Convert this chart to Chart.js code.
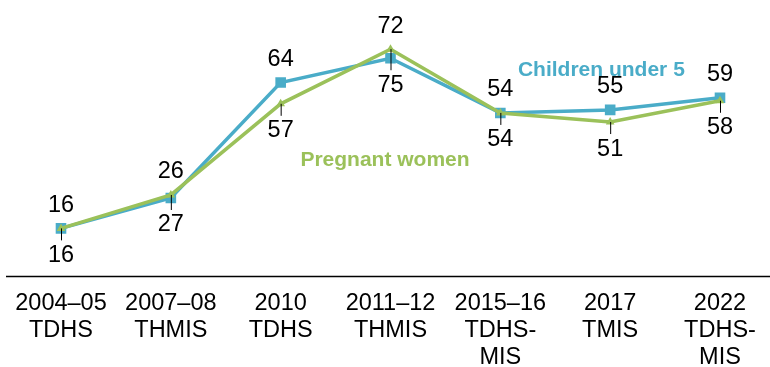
<!DOCTYPE html>
<html>
<head>
<meta charset="utf-8">
<script src="https://cdn.jsdelivr.net/npm/chart.js@4/dist/chart.umd.min.js"></script>
<style>
  html, body { margin: 0; padding: 0; background: #fff; }
  #wrap { width: 770px; height: 367px; }
</style>
</head>
<body>
<div id="wrap"><canvas id="anemiaChart"></canvas></div>
<script>
const surveys = [
    ['2004–05', 'TDHS'],
    ['2007–08', 'THMIS'],
    ['2010', 'TDHS'],
    ['2011–12', 'THMIS'],
    ['2015–16', 'TDHS-', 'MIS'],
    ['2017', 'TMIS'],
    ['2022', 'TDHS-', 'MIS']
];
const childrenUnder5 = [16, 26, 64, 72, 54, 55, 59];
const pregnantWomen = [16, 27, 57, 75, 54, 51, 58];

const blue = '#4aacc8';
const green = '#9bc15a';
const labelFont = '23.5px "Liberation Sans", Arial, sans-serif';
const seriesFont = 'bold 21px "Liberation Sans", Arial, sans-serif';

// baseline, value labels with leader ticks, and inline series names
const annotate = {
    id: 'annotate',
    beforeDatasetsDraw: function(chart) {
        let ctx = chart.ctx;
        let y0 = Math.round(chart.scales.y.getPixelForValue(0)) - 0.5;
        ctx.save();
        ctx.strokeStyle = '#000';
        ctx.lineWidth = 1.5;
        ctx.beginPath();
        ctx.moveTo(6, y0);
        ctx.lineTo(chart.width, y0);
        ctx.stroke();
        ctx.restore();
    },
    afterDatasetsDraw: function(chart) {
        let ctx = chart.ctx;
        let xs = chart.scales.x;
        let ys = chart.scales.y;
        ctx.save();

        surveys.forEach(function(s, i) {
            let x = xs.getPixelForValue(i);
            let yBlue = ys.getPixelForValue(childrenUnder5[i]);
            let yGreen = ys.getPixelForValue(pregnantWomen[i]);
            let top = Math.min(yBlue, yGreen);
            let bottom = Math.max(yBlue, yGreen);

            // leader tick under the pregnant women point
            ctx.strokeStyle = '#000';
            ctx.lineWidth = 1;
            ctx.beginPath();
            ctx.moveTo(x + 0.5, yGreen);
            ctx.lineTo(x + 0.5, bottom + 12);
            ctx.stroke();

            ctx.fillStyle = '#000';
            ctx.font = labelFont;
            ctx.textAlign = 'center';
            ctx.textBaseline = 'middle';
            ctx.fillText(String(childrenUnder5[i]), x, top - 23);
            ctx.fillText(String(pregnantWomen[i]), x, bottom + 27);
        });

        ctx.font = seriesFont;
        ctx.textAlign = 'center';
        ctx.textBaseline = 'alphabetic';
        ctx.fillStyle = blue;
        ctx.fillText('Children under 5', xs.getPixelForValue(4.92), ys.getPixelForValue(66));
        ctx.fillStyle = green;
        ctx.fillText('Pregnant women', xs.getPixelForValue(2.95), ys.getPixelForValue(36.5));
        ctx.restore();
    }
};

const ctx = document.getElementById('anemiaChart').getContext('2d');
const anemiaChart = new Chart(ctx, {
    type: 'line',
    data: {
        labels: surveys,
        datasets: [{
            label: 'Children under 5',
            data: childrenUnder5,
            borderColor: blue,
            backgroundColor: blue,
            borderWidth: 3.5,
            pointStyle: 'rect',
            pointRadius: 7.5,
            pointBorderWidth: 0,
            tension: 0,
            order: 1
        }, {
            label: 'Pregnant women',
            data: pregnantWomen,
            borderColor: green,
            backgroundColor: green,
            borderWidth: 3.5,
            pointStyle: 'triangle',
            pointRadius: 5,
            pointBorderWidth: 0,
            tension: 0,
            order: 0
        }]
    },
    options: {
        responsive: true,
        maintainAspectRatio: false,
        animation: false,
        layout: {
            padding: { top: 2, left: 61, right: 50, bottom: 0 }
        },
        plugins: {
            legend: { display: false },
            tooltip: { enabled: false }
        },
        scales: {
            x: {
                offset: false,
                grid: { display: false, drawTicks: false },
                border: { display: false },
                afterFit: function(scale) { scale.height = 90; },
                ticks: {
                    color: '#000',
                    padding: 13,
                    autoSkip: false,
                    maxRotation: 0,
                    font: { family: '"Liberation Sans", Arial, sans-serif', size: 23.5, lineHeight: 1.15 }
                }
            },
            y: {
                display: false,
                min: 0,
                max: 88.7
            }
        }
    },
    plugins: [annotate]
});
</script>
</body>
</html>
